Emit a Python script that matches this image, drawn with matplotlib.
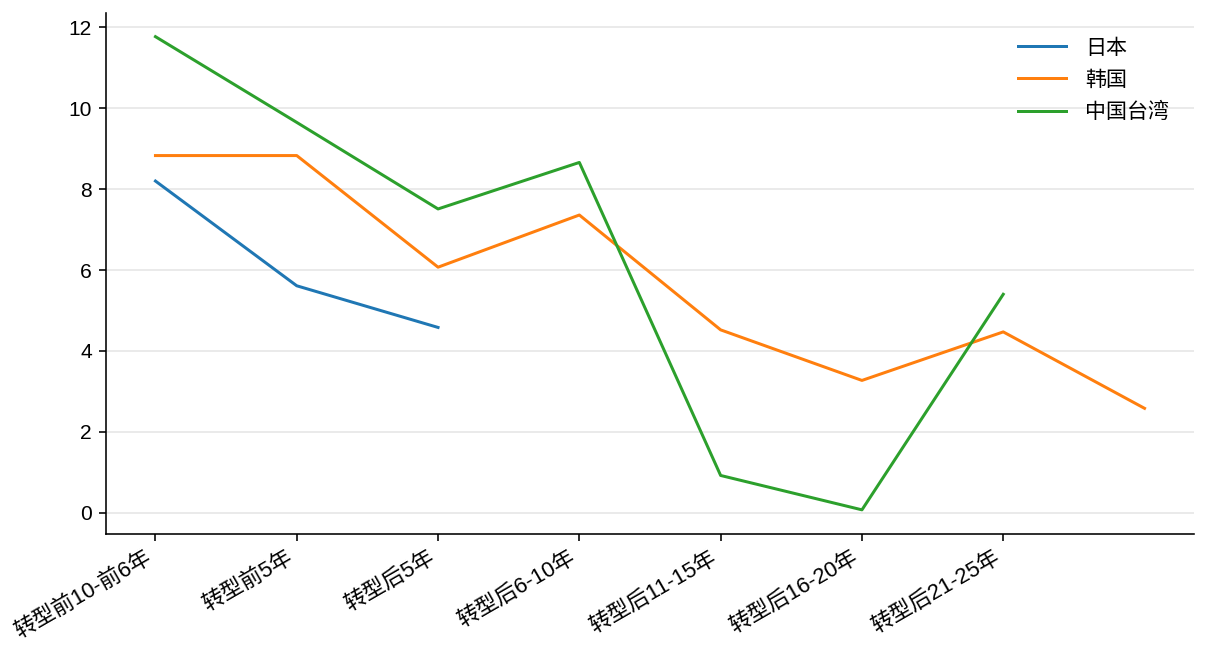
import matplotlib
matplotlib.use("Agg")
import matplotlib.pyplot as plt
import numpy as np

plt.rcParams['font.family'] = ['Liberation Sans', 'Noto Sans CJK SC', 'DejaVu Sans']
plt.rcParams['axes.unicode_minus'] = False

categories = ["转型前10-前6年", "转型前5年", "转型后5年", "转型后6-10年",
              "转型后11-15年", "转型后16-20年", "转型后21-25年"]
japan = [8.20, 5.61, 4.58]
korea = [8.83, 8.83, 6.07, 7.36, 4.52, 3.27, 4.47, 2.58]
taiwan = [11.77, 9.65, 7.51, 8.66, 0.92, 0.07, 5.40]
series_names = ["日本", "韩国", "中国台湾"]

fig = plt.figure(figsize=(1210/144, 672/144), dpi=144)
ax = fig.add_axes([106/1210, (672-533.5)/672, (1194-106)/1210, (533.5-13)/672])

ax.plot(np.arange(len(japan)), japan, color='#1f77b4', lw=1.5, label=series_names[0])
ax.plot(np.arange(len(korea)), korea, color='#ff7f0e', lw=1.5, label=series_names[1])
ax.plot(np.arange(len(taiwan)), taiwan, color='#2ca02c', lw=1.5, label=series_names[2])

ax.set_xticks(np.arange(len(categories)))
ax.set_xticklabels(categories, rotation=30, ha='right', fontsize=11)
ax.set_yticks([0, 2, 4, 6, 8, 10, 12])
ax.tick_params(axis='y', labelsize=10.5)
ax.grid(axis='y', color='#e5e5e5', lw=0.8)
ax.set_axisbelow(True)
for s in ['top', 'right']:
    ax.spines[s].set_visible(False)
ax.legend(frameon=False, loc='upper right', fontsize=10.5, handlelength=2.3,
          labelspacing=0.6, handletextpad=0.9, borderaxespad=0.8)

fig.savefig("out.png", dpi=144)
